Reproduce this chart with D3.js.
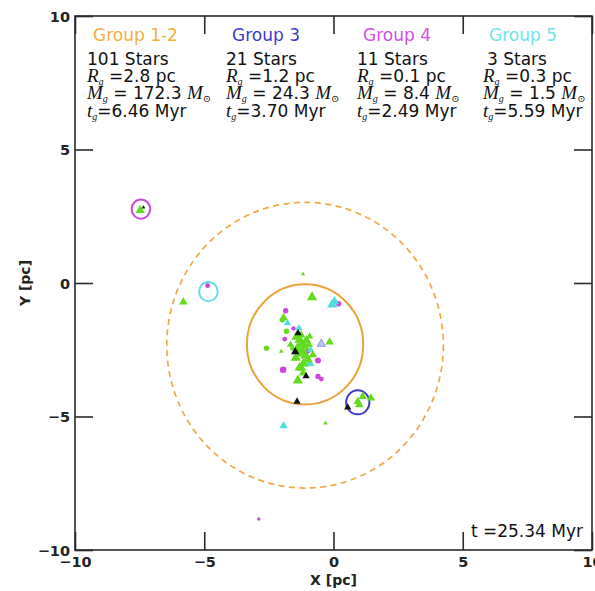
<!DOCTYPE html>
<html>
<head>
<meta charset="utf-8">
<script src="https://cdn.jsdelivr.net/npm/d3@7"></script>
<style>
  html, body { margin: 0; padding: 0; background: #fff; }
  svg { display: block; }
</style>
</head>
<body>
<svg id="chart" width="595" height="591"></svg>
<script>
// Group summary values
const groupNames = ["Group 1-2", "Group 3", "Group 4", "Group 5"];
const starCounts = [101, 21, 11, 3];
const groupRadii = ["2.8", "1.2", "0.1", "0.3"];
const groupMasses = ["172.3", "24.3", "8.4", "1.5"];
const groupTimes = ["6.46", "3.70", "2.49", "5.59"];
const snapshotTime = "25.34";

// Axis ticks
const tickValues = [-10, -5, 0, 5, 10];

// Group boundaries drawn as circles: [x, y, r] in pc
const coreCircle = [-1.1, -2.3, 2.25];
const haloCircle = [-1.1, -2.33, 5.35];
const group3Circle = [0.94, -4.47, 0.45];
const group4Circle = [-7.45, 2.77, 0.36];
const group5Circle = [-4.84, -0.32, 0.36];

// Stars: [x pc, y pc, mass Msun]
const greenTriangles = [
  [-1.18, 0.34, 0.5], [-5.81, -0.71, 2], [-0.83, -0.53, 3],
  [-1.43, -2.01, 3], [-1.31, -2.13, 3], [-1.23, -2.28, 3], [-1.12, -2.39, 3],
  [-1.39, -2.43, 3], [-1.19, -2.57, 3], [-1.08, -2.72, 3], [-1.0, -2.87, 3],
  [-1.16, -3.02, 3], [-1.31, -3.17, 3], [-1.18, -3.37, 2], [-0.92, -2.0, 1.5],
  [-0.8, -2.69, 2], [-0.15, -2.21, 2], [-1.66, -2.31, 1.5], [-1.38, -3.65, 3],
  [-0.31, -5.25, 0.6], [0.94, -4.44, 2], [1.13, -4.25, 2], [1.45, -4.31, 2],
  [1.0, -4.56, 2], [-7.48, 2.72, 2.5], [-2.02, -2.56, 0.6], [-1.46, -2.8, 3],
  [-0.96, -2.31, 2], [-1.93, -1.3, 2], [-1.25, -1.95, 2], [-1.05, -2.15, 2.5],
  [-1.35, -2.65, 2.5], [-1.22, -3.2, 2]
];
const greenCircles = [
  [-2.59, -2.44, 1.5], [-1.82, -1.81, 1.5], [-1.98, -1.38, 1.5], [-1.6, -2.45, 1]
];
const magentaCircles = [
  [-1.85, -1.04, 1.5], [0.2, -0.78, 1.5], [-1.89, -2.1, 1.2], [-0.6, -2.9, 1.8],
  [-1.95, -3.25, 2.2], [-0.6, -3.5, 1.5], [-0.47, -3.6, 1.2], [-0.99, -2.56, 1.2],
  [-4.87, -0.1, 1.2], [-2.89, -8.84, 0.6], [-1.55, -1.7, 1]
];
const blackTriangles = [
  [-1.37, -1.88, 1.5], [-1.48, -2.58, 2], [-1.06, -3.49, 1.5],
  [-1.41, -4.44, 1.5], [0.55, -4.66, 1.5], [-7.35, 2.83, 0.4]
];
const cyanTriangles = [
  [-0.05, -0.81, 3], [0.04, -0.69, 2.5], [-1.78, -1.5, 1.5], [-1.34, -1.69, 1.5],
  [-0.92, -3.02, 2.5], [-1.93, -5.35, 2], [-0.89, -2.5, 1.5]
];
const paleTriangles = [
  [-0.47, -2.28, 2]
];

const svg = d3.select("#chart");
const plotLeft = 75, plotRight = 592, plotTop = 16, plotBottom = 550;

const x = d3.scaleLinear().domain([-10, 10]).range([plotLeft, plotRight]);
const y = d3.scaleLinear().domain([-10, 10]).range([plotBottom, plotTop]);
const area = d3.scaleLinear().domain([0, 3]).range([0, 46]);

const sansFont = "DejaVu Sans, sans-serif";
const mathFont = "Liberation Serif, DejaVu Serif, serif";

const plot = svg.append("g");

// Group boundary circles (ellipses in screen space, circles in data space)
function drawCircle(c, color, width, dash) {
  plot.append("ellipse")
    .attr("cx", x(c[0])).attr("cy", y(c[1]))
    .attr("rx", x(c[2]) - x(0)).attr("ry", y(0) - y(c[2]))
    .attr("fill", "none")
    .attr("stroke", color)
    .attr("stroke-width", width)
    .attr("stroke-dasharray", dash || null);
}
drawCircle(haloCircle, "#eeaa44", 1.7, "6,4.5");
drawCircle(coreCircle, "#eaa23a", 2);
drawCircle(group3Circle, "#3a3ac8", 2);
drawCircle(group4Circle, "#c64ad8", 2);
drawCircle(group5Circle, "#66dde6", 2);

// Star markers
function drawStars(data, shape, fill, stroke) {
  plot.append("g").selectAll("path").data(data).join("path")
    .attr("transform", d => `translate(${x(d[0])},${y(d[1])})`)
    .attr("d", d => d3.symbol().type(shape).size(area(d[2]))())
    .attr("fill", fill)
    .attr("stroke", stroke || "none")
    .attr("stroke-width", stroke ? 1 : 0);
}
drawStars(greenCircles, d3.symbolCircle, "#62dc20");
drawStars(magentaCircles, d3.symbolCircle, "#cc44dd");
drawStars(cyanTriangles, d3.symbolTriangle, "#4fdde2");
drawStars(greenTriangles, d3.symbolTriangle, "#62dc20");
drawStars(blackTriangles, d3.symbolTriangle, "#111111");
drawStars(paleTriangles, d3.symbolTriangle, "#b8c4ee", "#8e9ade");

// Axes: inward ticks on all four sides
const tickLen = 18;
const fmt = d3.format("d");
const axB = svg.append("g").attr("transform", `translate(0,${plotBottom})`)
  .call(d3.axisBottom(x).tickValues(tickValues).tickSize(-tickLen).tickSizeOuter(0).tickPadding(7).tickFormat(fmt));
const axL = svg.append("g").attr("transform", `translate(${plotLeft},0)`)
  .call(d3.axisLeft(y).tickValues(tickValues).tickSize(-tickLen).tickSizeOuter(0).tickPadding(5).tickFormat(fmt));
const axT = svg.append("g").attr("transform", `translate(0,${plotTop})`)
  .call(d3.axisTop(x).tickValues(tickValues).tickSize(-tickLen).tickSizeOuter(0).tickFormat(""));
const axR = svg.append("g").attr("transform", `translate(${plotRight},0)`)
  .call(d3.axisRight(y).tickValues(tickValues).tickSize(-tickLen).tickSizeOuter(0).tickFormat(""));

[axB, axL, axT, axR].forEach(a => {
  a.select(".domain").remove();
  a.selectAll(".tick line").attr("stroke", "#2a2a2a").attr("stroke-width", 1.6);
  a.selectAll("text")
    .attr("font-family", sansFont)
    .attr("font-size", 14.5)
    .attr("font-weight", "bold")
    .attr("fill", "#222");
});
axL.selectAll("text").attr("dy", "0.36em");

svg.append("rect")
  .attr("x", plotLeft).attr("y", plotTop)
  .attr("width", plotRight - plotLeft).attr("height", plotBottom - plotTop)
  .attr("fill", "none").attr("stroke", "#2a2a2a").attr("stroke-width", 1.6);

// Axis titles
svg.append("text")
  .attr("x", (plotLeft + plotRight) / 2).attr("y", 585)
  .attr("text-anchor", "middle")
  .attr("font-family", sansFont).attr("font-size", 14).attr("font-weight", "bold")
  .attr("fill", "#222")
  .text("X [pc]");
svg.append("text")
  .attr("transform", `translate(30,${(plotTop + plotBottom) / 2}) rotate(-90)`)
  .attr("text-anchor", "middle")
  .attr("font-family", sansFont).attr("font-size", 14).attr("font-weight", "bold")
  .attr("fill", "#222")
  .text("Y [pc]");

// Group summary block
const colX = [87, 226, 357, 483];
const titleColors = ["#f2b040", "#3b3bd0", "#d24ee4", "#6ee4ea"];
const legend = svg.append("g").attr("fill", "#111");
const textSize = 17;

function mathLine(g, xPos, yPos, parts) {
  const t = g.append("text").attr("x", xPos).attr("y", yPos)
    .attr("font-family", sansFont).attr("font-size", textSize);
  parts.forEach(p => {
    const s = t.append("tspan").text(p.text);
    if (p.math) s.attr("font-family", mathFont).attr("font-style", "italic").attr("font-size", 19);
    if (p.sub) s.attr("font-family", mathFont).attr("font-style", "italic").attr("font-size", 10).attr("dy", 3);
    if (p.up) s.attr("dy", -3);
  });
}

groupNames.forEach((name, i) => {
  const cx = colX[i];
  legend.append("text")
    .attr("x", cx + 6).attr("y", 41)
    .attr("font-family", sansFont).attr("font-size", textSize)
    .attr("fill", titleColors[i])
    .text(name);
  legend.append("text")
    .attr("x", cx + (starCounts[i] < 10 ? 4 : 0)).attr("y", 64.5)
    .attr("font-family", sansFont).attr("font-size", textSize)
    .text(`${starCounts[i]} Stars`);
  mathLine(legend, cx, 81.5, [
    { text: "R", math: true }, { text: "g", sub: true },
    { text: ` =${groupRadii[i]} pc`, up: true }
  ]);
  mathLine(legend, cx, 99, [
    { text: "M", math: true }, { text: "g", sub: true },
    { text: ` = ${groupMasses[i]} `, up: true },
    { text: "M", math: true }, { text: "\u2299", sub: true }
  ]);
  mathLine(legend, cx, 116.5, [
    { text: "t", math: true }, { text: "g", sub: true },
    { text: `=${groupTimes[i]} Myr`, up: true }
  ]);
});

// Snapshot time
svg.append("text")
  .attr("x", 583).attr("y", 537)
  .attr("text-anchor", "end")
  .attr("font-family", sansFont).attr("font-size", textSize)
  .attr("fill", "#111")
  .text(`t =${snapshotTime} Myr`);
</script>
</body>
</html>
